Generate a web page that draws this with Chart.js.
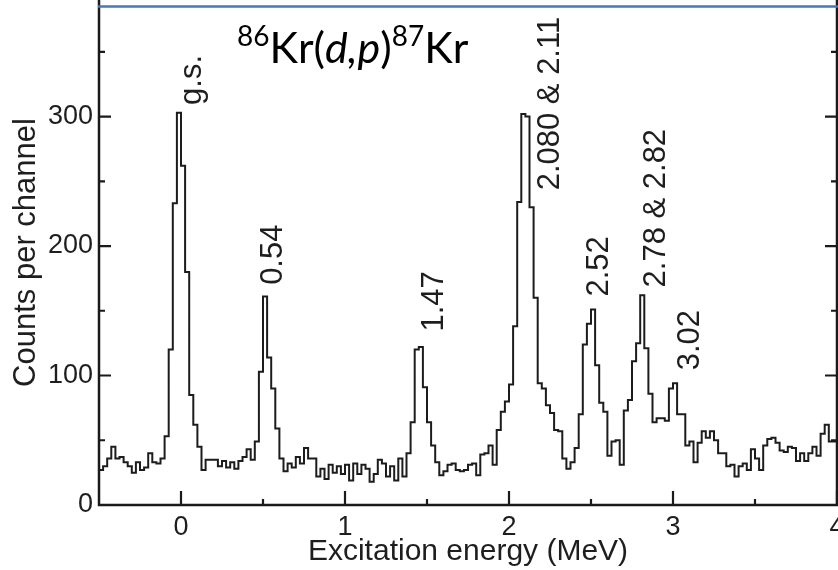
<!DOCTYPE html>
<html>
<head>
<meta charset="utf-8">
<script src="https://cdn.jsdelivr.net/npm/chart.js@4.4.1/dist/chart.umd.min.js"></script>
<style>
  html, body { margin: 0; padding: 0; background: #ffffff; }
  canvas { display: block; }
</style>
</head>
<body>
<canvas id="spectrum" width="838" height="570"></canvas>
<script>
// 86Kr(d,p)87Kr proton spectrum, counts per 25 keV channel starting at -0.5 MeV
const binStart = -0.5;
const binWidth = 0.025;
const counts = [
  27, 30, 36, 45, 36, 37, 33, 30, 25, 33,
  27, 29, 40, 33, 32, 36, 53, 120, 233, 303,
  262, 180, 85, 62, 45, 27, 35, 35, 35, 30,
  34, 29, 33, 28, 34, 37, 43, 35, 49, 103,
  161, 114, 90, 59, 36, 26, 32, 29, 37, 32,
  44, 36, 36, 22, 28, 20, 31, 25, 30, 24,
  31, 19, 32, 24, 31, 28, 18, 24, 35, 32,
  22, 30, 19, 36, 22, 40, 64, 120, 122, 91,
  64, 46, 33, 23, 26, 31, 32, 27, 26, 27,
  31, 32, 23, 39, 40, 46, 31, 58, 72, 80,
  93, 138, 234, 302, 300, 230, 160, 94, 90, 77,
  71, 58, 57, 36, 28, 33, 44, 70, 124, 140,
  151, 108, 79, 72, 38, 49, 50, 31, 73, 81,
  111, 125, 162, 121, 86, 64, 67, 67, 65, 90,
  94, 70, 70, 46, 49, 33, 48, 57, 52, 57,
  50, 40, 40, 30, 31, 22, 30, 32, 27, 43,
  36, 27, 46, 51, 52, 48, 42, 41, 45, 44,
  34, 40, 34, 40, 45, 38, 55, 62, 49, 49
];

// axis ticks
const xTickValues = [0, 1, 2, 3, 4];
const xMinorValues = [0.5, 1.5, 2.5, 3.5];
const yTickValues = [0, 100, 200, 300];
const yMinorValues = [50, 150, 250, 350];

// level labels: text, energy of label centre (MeV), counts where the text starts
const peakLabels = ['g.s.', '0.54', '1.47', '2.080 & 2.11', '2.52', '2.78 & 2.82', '3.02'];
const peakLabelEnergy = [0.067, 0.561, 1.543, 2.25, 2.552, 2.899, 3.107];
const peakLabelCounts = [309, 170, 134, 243, 161, 168, 104];

const INK = '#1e1e1e';
const SANS = '"Liberation Sans", Arial, Helvetica, sans-serif';

// histogram outline: each point is a channel's left edge, last point closes the final channel
const points = counts.map((c, i) => ({ x: binStart + i * binWidth, y: c }));
points.push({ x: binStart + counts.length * binWidth, y: counts[counts.length - 1] });

const frame = {
  id: 'frame',
  beforeDraw(chart) {
    const ctx = chart.ctx;
    ctx.save();
    ctx.fillStyle = '#ffffff';
    ctx.fillRect(0, 0, chart.width, chart.height);
    ctx.restore();
  },
  afterDraw(chart) {
    const { ctx, chartArea: a, scales: { x, y } } = chart;
    ctx.save();
    ctx.strokeStyle = '#1a1a1a';
    ctx.lineCap = 'butt';

    // axis lines
    ctx.lineWidth = 2.5;
    ctx.beginPath();
    ctx.moveTo(a.left, 0); ctx.lineTo(a.left, a.bottom + 1.25);
    ctx.moveTo(a.left - 1.25, a.bottom); ctx.lineTo(chart.width, a.bottom);
    ctx.moveTo(a.right, 0); ctx.lineTo(a.right, a.bottom);
    ctx.stroke();

    // inward tick marks
    ctx.lineWidth = 2.2;
    ctx.beginPath();
    const yTick = (v, len) => {
      const py = y.getPixelForValue(v);
      ctx.moveTo(a.left, py); ctx.lineTo(a.left + len, py);
      ctx.moveTo(a.right, py); ctx.lineTo(a.right - len, py);
    };
    yTickValues.forEach(v => yTick(v, 12));
    yMinorValues.forEach(v => yTick(v, 6));
    const xTick = (v, len) => {
      const px = x.getPixelForValue(v);
      ctx.moveTo(px, a.bottom); ctx.lineTo(px, a.bottom - len);
    };
    xTickValues.forEach(v => xTick(v, 14));
    xMinorValues.forEach(v => xTick(v, 6));
    ctx.stroke();

    // level labels, rotated
    ctx.fillStyle = INK;
    ctx.font = '31px ' + SANS;
    ctx.textAlign = 'left';
    ctx.textBaseline = 'middle';
    peakLabels.forEach((t, i) => {
      const px = x.getPixelForValue(peakLabelEnergy[i]);
      const py = y.getPixelForValue(peakLabelCounts[i]);
      ctx.save();
      ctx.translate(px, py);
      ctx.rotate(-Math.PI / 2);
      ctx.fillText(t, 0, 0);
      ctx.restore();
    });

    // top rule
    ctx.strokeStyle = '#4a76bd';
    ctx.lineWidth = 2.5;
    ctx.beginPath();
    ctx.moveTo(a.left - 1, 6.5); ctx.lineTo(chart.width, 6.5);
    ctx.stroke();

    // reaction title
    const parts = [
      { t: '86', sup: true },
      { t: 'Kr(', sup: false },
      { t: 'd,p', sup: false, it: true },
      { t: ')', sup: false },
      { t: '87', sup: true },
      { t: 'Kr', sup: false }
    ];
    let tx = 237;
    ctx.fillStyle = '#000000';
    ctx.textBaseline = 'alphabetic';
    parts.forEach(p => {
      ctx.font = (p.it ? 'italic ' : '') + (p.sup ? '28px' : '43px') + ' Lato, "Open Sans", sans-serif';
      ctx.fillText(p.t, tx, p.sup ? 46 : 63);
      tx += ctx.measureText(p.t).width;
    });
    ctx.restore();
  }
};

new Chart(document.getElementById('spectrum'), {
  type: 'line',
  data: {
    datasets: [{
      data: points,
      stepped: 'before',
      borderColor: '#1c1c1c',
      borderWidth: 2,
      pointRadius: 0,
      fill: false
    }]
  },
  options: {
    responsive: false,
    animation: false,
    devicePixelRatio: 1,
    layout: { padding: { left: 0, right: 1, top: 0, bottom: 0 } },
    plugins: { legend: { display: false }, tooltip: { enabled: false } },
    scales: {
      x: {
        type: 'linear',
        min: -0.5,
        max: 4,
        afterBuildTicks: s => { s.ticks = xTickValues.map(v => ({ value: v })); },
        afterFit: s => { s.height = 65; s.paddingLeft = 0; s.paddingRight = 0; },
        grid: { display: false, drawTicks: false },
        border: { display: false },
        ticks: {
          padding: 6,
          color: INK,
          maxRotation: 0,
          autoSkip: false,
          font: { family: SANS, size: 27 },
          callback: v => String(v)
        },
        title: {
          display: true,
          text: 'Excitation energy (MeV)',
          color: INK,
          font: { family: SANS, size: 30 },
          padding: { top: 0, bottom: 0 }
        }
      },
      y: {
        type: 'linear',
        min: 0,
        max: 390,
        afterBuildTicks: s => { s.ticks = yTickValues.map(v => ({ value: v })); },
        afterFit: s => { s.width = 99; s.paddingTop = 0; s.paddingBottom = 0; },
        grid: { display: false, drawTicks: false },
        border: { display: false },
        ticks: {
          padding: 6,
          color: INK,
          font: { family: SANS, size: 27 },
          callback: v => String(v)
        },
        title: {
          display: true,
          text: 'Counts per channel',
          color: INK,
          font: { family: SANS, size: 31 },
          padding: { top: 8, bottom: 0 }
        }
      }
    }
  },
  plugins: [frame]
});
</script>
</body>
</html>
